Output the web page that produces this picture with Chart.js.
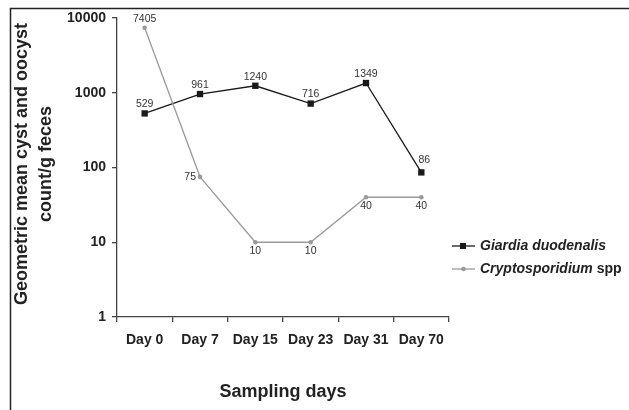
<!DOCTYPE html>
<html>
<head>
<meta charset="utf-8">
<script src="https://cdn.jsdelivr.net/npm/chart.js@4.4.1/dist/chart.umd.min.js"></script>
<style>
  html, body { margin: 0; padding: 0; background: #fff; }
</style>
</head>
<body>
<canvas id="chart" width="629" height="410"></canvas>
<script>
// data
const days = ["Day 0", "Day 7", "Day 15", "Day 23", "Day 31", "Day 70"];
const giardiaCounts = [529, 961, 1240, 716, 1349, 86];
const cryptoCounts = [7405, 75, 10, 10, 40, 40];
const yTicks = [1, 10, 100, 1000, 10000];
const seriesNames = ["Giardia duodenalis", "Cryptosporidium"];

// where each value label goes relative to its point
const giardiaLabelSide = ["above", "above", "above", "above", "above", "aboveRight"];
const cryptoLabelSide = ["above", "left", "below", "below", "below", "below"];

const baseFont = "'Liberation Sans', Arial, sans-serif";
const inkColor = "#222";
const giardiaColor = "#1a1a1a";
const cryptoColor = "#9a9a9a";

Chart.defaults.font.family = baseFont;
Chart.defaults.color = inkColor;

const valueLabels = {
    id: "valueLabels",
    afterDatasetsDraw(chart) {
        const ctx = chart.ctx;
        ctx.save();
        ctx.font = "10.5px " + baseFont;
        ctx.fillStyle = "#333";
        chart.data.datasets.forEach((ds, i) => {
            const meta = chart.getDatasetMeta(i);
            meta.data.forEach((pt, j) => {
                const side = ds.labelSide[j];
                let x = pt.x, y = pt.y;
                ctx.textAlign = "center";
                ctx.textBaseline = "middle";
                if(side == "above") y -= 9;
                else if(side == "aboveRight") { x += 3; y -= 12; }
                else if(side == "below") y += 9;
                else if(side == "left") { ctx.textAlign = "right"; x -= 4; }
                ctx.fillText(String(ds.data[j]), x, y);
            });
        });
        ctx.restore();
    }
};

const frameAndTitles = {
    id: "frameAndTitles",
    afterDraw(chart) {
        const ctx = chart.ctx;
        const area = chart.chartArea;
        ctx.save();

        // figure frame (top and left edges only are visible)
        ctx.strokeStyle = "#222";
        ctx.lineWidth = 1.5;
        ctx.beginPath();
        ctx.moveTo(629, 8.5);
        ctx.lineTo(10.5, 8.5);
        ctx.lineTo(10.5, 410);
        ctx.stroke();

        ctx.fillStyle = inkColor;
        ctx.font = "bold 18px " + baseFont;
        ctx.textAlign = "center";
        ctx.textBaseline = "middle";
        ctx.fillText("Sampling days", (area.left + area.right) / 2, 392);

        ctx.save();
        ctx.translate(22, 164);
        ctx.rotate(-Math.PI / 2);
        ctx.fillText("Geometric mean cyst and oocyst", 0, 0);
        ctx.fillText("count/g feces", 0, 24);
        ctx.restore();

        // legend
        const rows = [
            {y: 246, color: giardiaColor, style: "rect", name: seriesNames[0], extra: ""},
            {y: 269, color: cryptoColor, style: "circle", name: seriesNames[1], extra: " spp"}
        ];
        for(let row of rows) {
            ctx.strokeStyle = row.color;
            ctx.fillStyle = row.color;
            ctx.lineWidth = 1.3;
            ctx.beginPath();
            ctx.moveTo(452, row.y);
            ctx.lineTo(475, row.y);
            ctx.stroke();
            if(row.style == "rect") {
                ctx.fillRect(460, row.y - 3, 6, 6);
            }
            else {
                ctx.beginPath();
                ctx.arc(463.5, row.y, 2.3, 0, Math.PI * 2);
                ctx.fill();
            }
            ctx.fillStyle = inkColor;
            ctx.textAlign = "left";
            ctx.font = "italic bold 14px " + baseFont;
            ctx.fillText(row.name, 480, row.y);
            if(row.extra) {
                let w = ctx.measureText(row.name).width;
                ctx.font = "bold 14px " + baseFont;
                ctx.fillText(row.extra, 480 + w, row.y);
            }
        }
        ctx.restore();
    }
};

new Chart(document.getElementById("chart"), {
    type: "line",
    data: {
        labels: days,
        datasets: [
            {
                label: seriesNames[1],
                data: cryptoCounts,
                labelSide: cryptoLabelSide,
                borderColor: cryptoColor,
                backgroundColor: cryptoColor,
                borderWidth: 1.3,
                pointStyle: "circle",
                pointRadius: 2.3,
                pointBorderWidth: 0,
                tension: 0,
            },
            {
                label: seriesNames[0],
                data: giardiaCounts,
                labelSide: giardiaLabelSide,
                borderColor: giardiaColor,
                backgroundColor: giardiaColor,
                borderWidth: 1.3,
                pointStyle: "rect",
                pointRadius: 4.5,
                pointBorderWidth: 0,
                tension: 0,
            },
        ],
    },
    options: {
        responsive: false,
        animation: false,
        devicePixelRatio: 1,
        clip: false,
        layout: {
            padding: {top: 18, right: 180, left: 0, bottom: 0},
        },
        plugins: {
            legend: {display: false},
            tooltip: {enabled: false},
        },
        scales: {
            x: {
                type: "category",
                offset: true,
                grid: {
                    offset: true,
                    drawOnChartArea: false,
                    tickLength: 5,
                    color: "#444",
                    lineWidth: 1.3,
                },
                border: {color: "#444", width: 1.3},
                ticks: {
                    font: {size: 14, weight: "bold"},
                    color: inkColor,
                    padding: 10,
                    maxRotation: 0,
                },
                afterFit(scale) {
                    scale.height = 93;
                },
            },
            y: {
                type: "logarithmic",
                min: 1,
                max: 10000,
                grid: {
                    drawOnChartArea: false,
                    tickLength: 5,
                    color: "#444",
                    lineWidth: 1.3,
                },
                border: {color: "#444", width: 1.3},
                ticks: {
                    font: {size: 14, weight: "bold"},
                    color: inkColor,
                    padding: 6,
                    callback: (v) => String(v),
                },
                afterBuildTicks(scale) {
                    scale.ticks = yTicks.map(v => ({value: v}));
                },
                afterFit(scale) {
                    scale.width = 117;
                },
            },
        },
    },
    plugins: [valueLabels, frameAndTitles],
});
</script>
</body>
</html>
